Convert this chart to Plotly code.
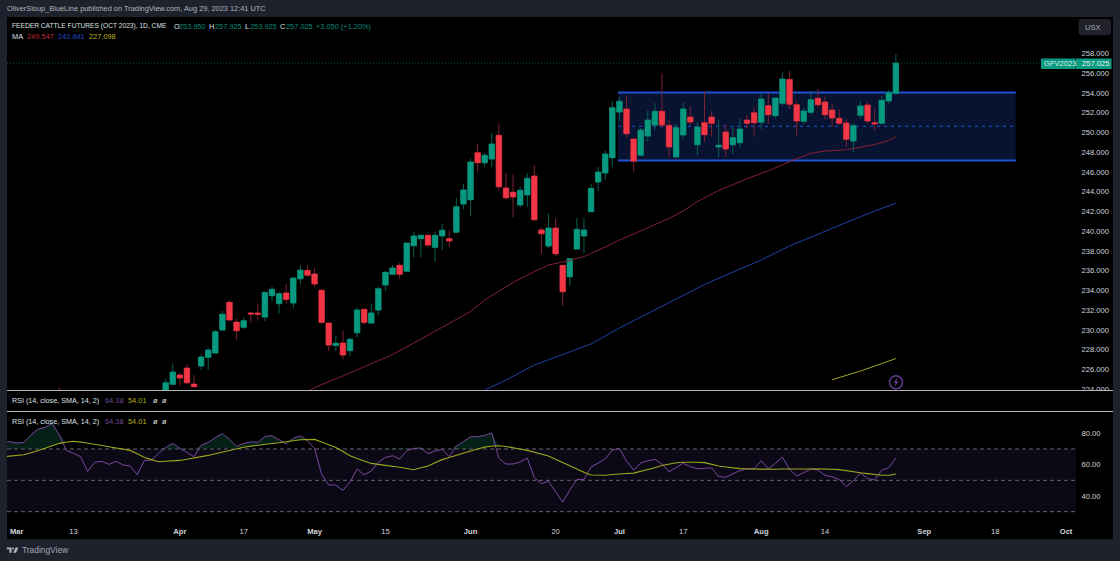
import plotly.graph_objects as go

W, H = 1120, 561
# the photographed plot comes out 4px short, so pixel positions are measured against this
H_SEEN = 557

# bar number counted from Mar 1, trading days only
bar_idx = [6] + list(range(21, 125))
opens = [223.00,
    223.60, 224.48, 225.42, 226.13, 224.51, 226.34, 227.22, 227.65, 229.98, 232.79,
    230.79, 230.26, 231.71, 231.71, 231.30, 233.46, 232.65, 233.73, 232.72, 235.18,
    236.03, 235.66, 234.01, 230.69, 228.43, 228.67, 227.89, 229.71, 232.08, 230.69,
    232.01, 234.54, 235.63, 236.54, 235.93, 238.53, 239.24, 239.58, 238.36, 239.51,
    239.24, 239.88, 242.75, 243.19, 247.95, 246.94, 247.31, 249.71, 244.37, 243.94,
    242.65, 243.66, 245.59, 240.12, 238.50, 240.32, 236.54, 235.38, 238.19, 239.51,
    241.97, 244.98, 245.89, 247.44, 252.07, 252.38, 249.34, 247.69, 249.64, 250.75,
    252.14, 250.72, 247.51, 249.74, 251.57, 248.76, 250.99, 251.57, 248.53, 250.05,
    248.76, 248.96, 251.26, 251.99, 251.03, 252.71, 251.70, 252.95, 255.38, 252.81,
    251.13, 252.04, 253.46, 253.09, 252.27, 251.43, 250.96, 249.13, 251.74, 252.78,
    250.99, 250.93, 253.19, 253.95]
highs = [224.15,
    225.05, 226.61, 225.66, 226.54, 225.42, 227.55, 228.19, 229.98, 231.91, 233.02,
    231.10, 231.27, 231.78, 232.69, 233.87, 234.37, 233.87, 234.65, 235.32, 236.54,
    236.54, 236.27, 234.17, 230.69, 229.41, 229.95, 229.24, 232.28, 232.18, 232.69,
    234.37, 235.96, 236.57, 236.77, 238.80, 239.91, 239.64, 239.58, 239.95, 240.79,
    240.09, 243.36, 244.78, 247.38, 248.90, 247.95, 249.94, 250.93, 245.86, 245.76,
    244.50, 245.86, 246.67, 240.39, 241.74, 241.33, 236.54, 237.31, 241.33, 241.33,
    244.78, 246.53, 248.15, 253.12, 253.56, 253.69, 249.34, 250.45, 252.20, 252.98,
    255.99, 251.26, 250.86, 253.05, 252.68, 251.03, 254.20, 252.17, 251.26, 250.86,
    250.58, 251.43, 251.77, 252.61, 253.87, 253.97, 253.49, 256.10, 256.23, 253.19,
    252.45, 254.17, 254.40, 253.62, 252.85, 252.38, 251.33, 250.93, 253.19, 253.16,
    252.35, 253.69, 254.30, 257.925]
lows = [222.50,
    223.30, 224.48, 224.34, 224.54, 224.24, 225.93, 225.93, 227.65, 229.98, 230.90,
    229.04, 230.09, 230.72, 230.93, 230.90, 232.89, 231.64, 232.65, 232.18, 234.65,
    235.38, 234.31, 230.66, 227.86, 227.86, 227.01, 227.38, 229.24, 230.52, 230.69,
    231.50, 233.94, 235.63, 235.18, 235.93, 237.35, 237.35, 238.43, 236.90, 238.09,
    238.36, 239.88, 242.24, 241.53, 246.02, 246.53, 246.53, 244.07, 243.16, 241.40,
    242.42, 242.48, 241.06, 237.68, 238.29, 237.48, 232.45, 234.44, 238.16, 237.79,
    241.97, 244.07, 245.21, 246.47, 251.19, 249.47, 246.02, 247.61, 249.13, 250.25,
    250.48, 247.44, 247.51, 249.34, 250.79, 247.69, 249.06, 249.57, 247.51, 247.54,
    247.82, 248.45, 250.45, 249.57, 250.35, 250.86, 251.43, 252.71, 252.38, 249.64,
    250.86, 251.77, 252.45, 251.33, 250.58, 250.79, 248.50, 248.02, 251.39, 250.93,
    250.25, 250.79, 252.85, 253.925]
closes = [222.80,
    224.64, 225.73, 225.12, 224.64, 224.24, 227.25, 227.96, 229.81, 231.58, 231.00,
    229.91, 230.93, 231.61, 231.58, 233.80, 234.11, 233.66, 233.09, 235.25, 236.06,
    235.53, 234.65, 230.76, 228.46, 228.64, 227.45, 229.04, 232.01, 230.76, 231.71,
    234.17, 235.83, 236.27, 235.63, 238.80, 239.51, 239.58, 238.60, 239.58, 240.09,
    239.00, 242.48, 244.17, 247.00, 246.94, 247.69, 248.83, 244.50, 243.39, 243.46,
    244.14, 245.35, 241.16, 239.74, 240.32, 237.72, 233.86, 237.21, 240.19, 240.12,
    244.34, 245.99, 247.82, 252.51, 253.16, 249.87, 247.08, 250.25, 251.26, 252.14,
    250.75, 248.53, 250.48, 252.38, 251.06, 250.55, 249.77, 250.93, 248.70, 248.32,
    249.47, 250.35, 250.93, 250.99, 253.39, 251.80, 253.49, 255.42, 252.85, 251.16,
    252.17, 253.32, 252.81, 251.80, 251.46, 250.93, 249.31, 250.72, 252.68, 251.16,
    250.86, 253.26, 254.03, 257.025]

ma50_idx = [41, 43, 46, 50, 53, 56, 59, 62, 64, 66, 68, 70, 73, 75, 78, 80, 83, 85, 87, 90, 92,
            94, 96, 99, 102, 104, 106, 108, 110, 112, 114, 117, 119, 121, 123, 124]
ma50 = [223.80, 224.46, 225.33, 226.54, 227.50, 228.67, 229.88, 231.10, 231.86, 233.03, 233.94,
        234.80, 235.91, 236.57, 237.03, 237.43, 238.39, 239.10, 239.71, 240.62, 241.30,
        242.04, 243.00, 244.12, 245.03, 245.59, 246.10, 246.75, 247.36, 247.89, 248.12,
        248.25, 248.48, 248.78, 249.19, 249.547]
ma100_idx = [66, 69, 73, 77, 81, 85, 89, 93, 97, 101, 105, 109, 113, 117, 121, 124]
ma100 = [223.90, 224.92, 226.44, 227.50, 228.57, 230.19, 231.66, 233.07, 234.60, 235.86, 237.08,
         238.50, 239.71, 240.88, 242.04, 242.841]
ma200_idx = [115, 119, 122, 124]
ma200 = [224.95, 225.83, 226.59, 227.098]

rsi_idx = list(range(-2, 125))
rsi = [74.6, 74.6,
    73.8, 74.2, 78.9, 82.7, 83.8, 86.3, 78.9, 69.1, 67.2, 65.1, 55.7, 61.5, 62.1, 60.2, 62.1, 59.8,
    59.1, 53.6, 62.7, 62.9, 67.2, 71.0, 73.6, 70.4, 67.8, 65.1, 72.3, 74.2, 77.2, 79.7, 76.1, 71.7,
    73.4, 74.6, 74.2, 78.0, 78.5, 76.1, 73.2, 76.8, 78.3, 75.3, 70.4, 53.8, 47.0, 47.0, 43.6, 48.9,
    57.2, 53.4, 55.9, 61.5, 64.6, 65.7, 63.6, 68.9, 70.4, 70.6, 67.0, 68.7, 69.7, 65.1, 71.9, 74.6,
    77.8, 77.8, 78.7, 80.2, 64.0, 60.4, 60.4, 61.7, 64.2, 51.7, 48.0, 49.3, 42.7, 36.1, 43.8, 50.6,
    50.6, 58.5, 61.0, 63.8, 69.3, 70.4, 62.3, 56.6, 61.0, 62.5, 63.4, 60.4, 55.5, 58.0, 60.8, 58.7,
    57.4, 57.7, 57.9, 52.5, 51.9, 54.2, 56.2, 57.4, 57.4, 62.5, 57.4, 60.8, 64.7, 57.0, 52.8, 54.9,
    57.2, 56.6, 53.2, 52.3, 50.6, 46.0, 49.8, 54.7, 51.1, 50.2, 56.4, 58.1, 64.38]
rsi_ma = [65.0, 65.3,
    65.8, 66.3, 67.6, 68.9, 70.5, 72.1, 73.6, 74.3, 74.9, 74.4, 73.8, 73.0, 72.2, 71.4, 70.6, 69.9,
    69.1, 66.9, 64.6, 63.2, 61.9, 62.2, 62.4, 62.7, 63.4, 64.1, 64.8, 65.9, 67.0, 68.0, 69.2, 70.4,
    71.1, 71.8, 72.5, 73.0, 73.5, 74.0, 74.6, 75.3, 75.9, 76.0, 76.1, 74.4, 72.7, 71.0, 68.4, 65.7,
    63.9, 62.3, 60.8, 60.2, 59.7, 59.1, 58.3, 57.6, 56.8, 58.0, 59.1, 61.2, 63.2, 64.6, 66.1, 67.4,
    68.7, 70.0, 71.2, 71.7, 72.1, 71.6, 71.0, 70.0, 69.1, 67.9, 66.7, 65.5, 63.4, 61.2, 59.0, 56.8,
    55.1, 53.4, 53.3, 53.2, 53.7, 54.2, 54.4, 54.6, 55.6, 56.6, 58.0, 59.5, 60.4, 61.2, 61.5, 61.7,
    61.5, 61.3, 60.2, 59.1, 58.5, 57.9, 57.5, 57.2, 57.1, 57.0, 57.1, 57.1, 57.2, 57.1, 57.0, 57.0,
    57.2, 57.3, 57.4, 57.1, 56.8, 56.0, 55.3, 54.8, 54.3, 53.8, 53.2, 53.2, 54.01]

time_ticks = [0, 8, 23, 32, 42, 52, 64, 76, 85, 94, 105, 114, 128, 138, 148]
time_labels = ["<b>Mar</b>", "13", "<b>Apr</b>", "17", "<b>May</b>", "15", "<b>Jun</b>", "20",
               "<b>Jul</b>", "17", "<b>Aug</b>", "14", "<b>Sep</b>", "18", "<b>Oct</b>"]
price_ticks = list(range(224, 260, 2))
rsi_ticks = [40, 60, 80]
rsi_levels = [70, 50, 30]

last_price = 257.025
zone_start, zone_end = 84.8, 140.9
zone_top, zone_mid, zone_bot = 254.05, 250.62, 247.16

FONT = "Liberation Sans"
FS = 7.6
GREEN, RED = "#089981", "#f23645"
X_RANGE = [-1.38, 149.4]


def fx(x):
    return x / W


def fy(y):
    return 1 - y / H_SEEN


def poly(points):
    return "M " + " L ".join(f"{fx(x):.5f},{fy(y):.5f}" for x, y in points) + " Z"


def label(x, y, text, color="#dfe1e6", size=FS, anchor="left"):
    return dict(x=fx(x), y=fy(y), xref="paper", yref="paper", text=text, showarrow=False,
                xanchor=anchor, yanchor="middle", borderpad=0,
                font=dict(family=FONT, size=size, color=color))


def box(x0, y0, x1, y1, color, layer="above"):
    return dict(type="rect", xref="paper", yref="paper", x0=fx(x0), x1=fx(x1), y0=fy(y0), y1=fy(y1),
                fillcolor=color, line_width=0, layer=layer)


def hline(x0, x1, y, color, width=1, dash="solid", xref="x", yref="y", layer="below"):
    return dict(type="line", xref=xref, yref=yref, x0=x0, x1=x1, y0=y, y1=y,
                line=dict(color=color, width=width, dash=dash), layer=layer)


def rsi_legend(y):
    return [
        label(11, y, "RSI (14, close, SMA, 14, 2)", size=7.2),
        label(104, y, "64.38", "#6f4a92", size=7.4),
        label(127, y, "54.01", "#b4b01e", size=7.4),
        label(151.5, y, "ø", size=7.4),
        label(160.5, y, "ø", size=7.4),
    ]


fig = go.Figure()

# dark wicks from the first trace, bright bodies drawn over them
fig.add_trace(go.Candlestick(
    x=bar_idx, open=opens, high=highs, low=lows, close=closes, whiskerwidth=0,
    increasing=dict(fillcolor=GREEN, line=dict(color="#0a5f52", width=1)),
    decreasing=dict(fillcolor=RED, line=dict(color="#7d2230", width=1)),
    xaxis="x", yaxis="y"))
fig.add_trace(go.Candlestick(
    x=bar_idx, open=opens, close=closes, whiskerwidth=0,
    high=[max(o, c) for o, c in zip(opens, closes)], low=[min(o, c) for o, c in zip(opens, closes)],
    increasing=dict(fillcolor=GREEN, line=dict(color=GREEN, width=0.4)),
    decreasing=dict(fillcolor=RED, line=dict(color=RED, width=0.4)),
    xaxis="x", yaxis="y"))
fig.add_trace(go.Scatter(x=ma50_idx, y=ma50, mode="lines", line=dict(color="#86202f", width=1), xaxis="x", yaxis="y"))
fig.add_trace(go.Scatter(x=ma100_idx, y=ma100, mode="lines", line=dict(color="#1d43a6", width=1), xaxis="x", yaxis="y"))
fig.add_trace(go.Scatter(x=ma200_idx, y=ma200, mode="lines", line=dict(color="#a5a620", width=1), xaxis="x", yaxis="y"))

# overbought fill sits between the RSI and the higher of its MA and the 70 level
fill_low = [max(m, 70) for m in rsi_ma]
fill_top = [max(r, f) for r, f in zip(rsi, fill_low)]
fig.add_trace(go.Scatter(x=rsi_idx, y=fill_low, mode="lines", line=dict(width=0), xaxis="x2", yaxis="y2"))
fig.add_trace(go.Scatter(x=rsi_idx, y=fill_top, mode="lines", line=dict(width=0), fill="tonexty",
                         fillcolor="rgba(16,105,72,0.3)", xaxis="x2", yaxis="y2"))
fig.add_trace(go.Scatter(x=rsi_idx, y=rsi, mode="lines", line=dict(color="#7a4a9e", width=1), xaxis="x2", yaxis="y2"))
fig.add_trace(go.Scatter(x=rsi_idx, y=rsi_ma, mode="lines", line=dict(color="#9fa61c", width=1.1), xaxis="x2", yaxis="y2"))

shapes = [
    box(7, 17, 1113, 539, "#000000", layer="below"),
    dict(type="rect", xref="x", yref="y", x0=zone_start, x1=zone_end, y0=zone_bot, y1=zone_top,
         fillcolor="#071330", line_width=0, layer="below"),
    hline(zone_start, zone_end, zone_top, "#2152d6", width=2),
    hline(zone_start, zone_end, zone_bot, "#2152d6", width=2),
    hline(zone_start, zone_end, zone_mid, "#1c46b4", width=1.2, dash="3px,4px"),
    hline(X_RANGE[0], X_RANGE[1], last_price, "#0a5a4e", dash="1px,2px"),
    dict(type="rect", xref="x2", yref="y2", x0=X_RANGE[0], x1=X_RANGE[1], y0=rsi_levels[2], y1=rsi_levels[0],
         fillcolor="#0c0916", line_width=0, layer="below"),
]
for lvl in rsi_levels:
    shapes.append(hline(X_RANGE[0], X_RANGE[1], lvl, "#66666e", dash="4px,3px", xref="x2", yref="y2"))
shapes += [
    # hides the lower half of the 224.000 tick, as in the screenshot
    box(1077, 390, 1113, 411, "#000000"),
    box(7, 390, 1113, 391, "#b4b4b8"),
    box(7, 411, 1113, 412, "#b4b4b8"),
    box(1041, 58.5, 1075.5, 69, GREEN),
    box(1076, 58.5, 1111.5, 69, GREEN),
    dict(type="path", xref="paper", yref="paper", fillcolor="#20212b", line_width=0,
         path=f"M {fx(1081)},{fy(19)} L {fx(1108)},{fy(19)} Q {fx(1111)},{fy(19)} {fx(1111)},{fy(22)} "
              f"L {fx(1111)},{fy(32)} Q {fx(1111)},{fy(35)} {fx(1108)},{fy(35)} L {fx(1081)},{fy(35)} "
              f"Q {fx(1078.5)},{fy(35)} {fx(1078.5)},{fy(32)} L {fx(1078.5)},{fy(22)} "
              f"Q {fx(1078.5)},{fy(19)} {fx(1081)},{fy(19)} Z"),
    # alert badge on the last bar
    dict(type="circle", xref="paper", yref="paper", x0=fx(889.5), x1=fx(902.5), y0=fy(375.8), y1=fy(388.8),
         line=dict(color="#5f3a8f", width=1.5)),
    dict(type="path", xref="paper", yref="paper", fillcolor="#5f3a8f", line_width=0,
         path=poly([(897.5, 377.8), (893.3, 382.8), (895.6, 382.8), (894.6, 386.8), (898.8, 381.6), (896.4, 381.6)])),
    # TradingView logo in the footer
    dict(type="path", xref="paper", yref="paper", fillcolor="#b2b5be", line_width=0,
         path=poly([(6.8, 547.4), (11.6, 547.4), (11.6, 552.7), (9.4, 552.7), (9.4, 549.2), (6.8, 549.2)])),
    dict(type="circle", xref="paper", yref="paper", x0=fx(12), x1=fx(14), y0=fy(547.4), y1=fy(549.4),
         fillcolor="#b2b5be", line_width=0),
    dict(type="path", xref="paper", yref="paper", fillcolor="#b2b5be", line_width=0,
         path=poly([(15.6, 547.4), (18.4, 547.4), (16, 552.7), (13.2, 552.7)])),
]

annotations = [
    label(6, 9, "OliverSloup_BlueLine published on TradingView.com, Aug 29, 2023 12:41 UTC", "#b2b5be", size=7.4),
    label(11, 26, "FEEDER CATTLE FUTURES (OCT 2023), 1D, CME", size=6.65),
    label(172.5, 26, "O", size=7.4), label(177.5, 26, "253.950", "#0a8a76", size=7.4),
    label(208, 26, "H", size=7.4), label(213.5, 26, "257.925", "#0a8a76", size=7.4),
    label(244, 26, "L", size=7.4), label(248.5, 26, "253.925", "#0a8a76", size=7.4),
    label(279, 26, "C", size=7.4), label(284.5, 26, "257.025", "#0a8a76", size=7.4),
    label(314.7, 26, "+3.050 (+1.20%)", "#0a8a76", size=7.4),
    label(11, 37, "MA", size=7.4),
    label(25.7, 37, "249.547", "#c2253c", size=7.4),
    label(56.7, 37, "242.841", "#2648c8", size=7.4),
    label(87.7, 37, "227.098", "#b9b01c", size=7.4),
    *rsi_legend(400),
    *rsi_legend(421),
    label(1043, 63.7, "GFV2023", "#d8efe9"),
    label(1081, 63.7, f"{last_price:.3f}", "#eaf6f3"),
    label(1084, 27, "USX", "#a4a7b0"),
    label(21, 549.7, "TradingView", "#a4a7b0", size=8.4),
]

fig.update_layout(
    width=W, height=H, margin=dict(l=0, r=0, t=0, b=0),
    paper_bgcolor="#1e222d", plot_bgcolor="rgba(0,0,0,0)", showlegend=False, boxgap=0.24, boxgroupgap=0,
    font=dict(family=FONT, size=FS, color="#d1d4dc"),
    shapes=shapes, annotations=annotations,
    xaxis=dict(domain=[fx(7), fx(1076)], range=X_RANGE, anchor="y", showgrid=False, zeroline=False,
               showticklabels=False, ticks="", rangeslider=dict(visible=False)),
    yaxis=dict(domain=[fy(390), fy(17)], range=[223.91, 261.70], side="right", anchor="x", showgrid=False,
               zeroline=False, tickvals=price_ticks, tickformat=".3f", ticks="outside", ticklen=3,
               tickcolor="rgba(0,0,0,0)", tickfont=dict(size=FS, color="#d1d4dc")),
    xaxis2=dict(domain=[fx(7), fx(1076)], range=X_RANGE, anchor="y2", showgrid=False, zeroline=False,
                tickvals=time_ticks, ticktext=time_labels, ticks="outside", ticklen=6,
                tickcolor="rgba(0,0,0,0)", tickfont=dict(size=FS, color="#d1d4dc")),
    yaxis2=dict(domain=[fy(518), fy(411)], range=[25.97, 94.23], side="right", anchor="x2", showgrid=False,
                zeroline=False, tickvals=rsi_ticks, tickformat=".2f", ticks="outside", ticklen=3,
                tickcolor="rgba(0,0,0,0)", tickfont=dict(size=FS, color="#d1d4dc")),
)

# the default page leaves a body margin and a few spare pixels under the plot
page_fix = ("for (const el of [document.documentElement, document.body]) "
            "{ el.style.margin = '0'; el.style.height = '561px'; el.style.overflow = 'hidden'; }")
fig.write_html("out.html", config=dict(displayModeBar=False), post_script=page_fix)
